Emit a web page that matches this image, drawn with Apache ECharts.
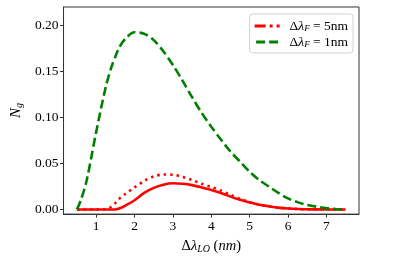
<!DOCTYPE html>
<html><head><meta charset="utf-8">
<script src="https://cdn.jsdelivr.net/npm/echarts@6/dist/echarts.min.js"></script>
<style>html,body{margin:0;padding:0;background:#fff}#c{width:415px;height:259px}</style>
</head><body><div id="c"></div>
<script>
const xs = [0.5, 0.6, 0.75, 1.0, 1.25, 1.4, 1.5, 1.6, 1.75, 2.0, 2.25, 2.5, 2.75, 3.0, 3.25, 3.5, 3.75, 4.0, 4.25, 4.5, 4.75, 5.0, 5.25, 5.5, 5.75, 6.0, 6.25, 6.5, 6.75, 7.0, 7.25, 7.5];
const ngF1 = [0, 0.010, 0.031, 0.084, 0.133, 0.155, 0.166, 0.176, 0.185, 0.1925, 0.191, 0.184, 0.172, 0.157, 0.140, 0.122, 0.105, 0.090, 0.076, 0.063, 0.052, 0.041, 0.032, 0.025, 0.018, 0.012, 0.008, 0.005, 0.003, 0.0015, 0.0005, 0];
const ngF5Solid = [0, 0, 0, 0, 0, 0, 0, 0.001, 0.004, 0.010, 0.018, 0.0235, 0.027, 0.0285, 0.028, 0.0265, 0.024, 0.0213, 0.018, 0.014, 0.0105, 0.0075, 0.0052, 0.0035, 0.002, 0.0011, 0.0005, 0.0002, 0.0001, 0, 0, 0];
const ngF5Dotted = [0, 0, 0, 0, 0.0005, 0.003, 0.007, 0.0115, 0.0165, 0.024, 0.031, 0.036, 0.038, 0.0378, 0.0355, 0.032, 0.028, 0.0245, 0.0205, 0.016, 0.0115, 0.008, 0.0052, 0.0035, 0.002, 0.0011, 0.0005, 0.0002, 0.0001, 0, 0, 0];
const xTicks = [1, 2, 3, 4, 5, 6, 7];
const yTicks = [0, 0.05, 0.10, 0.15, 0.20];
const legendLabels = ['5nm', '1nm'];

const pairs = arr => xs.map((x, i) => [x, arr[i]]);
const serifFont = '"Liberation Serif", "DejaVu Serif", serif';
const chart = echarts.init(document.getElementById('c'), null, {renderer: 'canvas'});
const rich = {
  n: {fontFamily: serifFont, fontSize: 13.5, color: '#000', lineHeight: 14},
  i: {fontFamily: serifFont, fontSize: 13.5, fontStyle: 'italic', color: '#000', lineHeight: 14},
  s: {fontFamily: serifFont, fontSize: 9, fontStyle: 'italic', color: '#000', verticalAlign: 'bottom', lineHeight: 8, padding: [6, 0, 0, 0]}
};
chart.setOption({
  animation: false,
  grid: {left: 60, right: 56, top: 7, bottom: 44, show: true, borderColor: '#333', borderWidth: 1, backgroundColor: 'transparent'},
  legend: {
    show: true,
    right: 62, top: 14,
    orient: 'vertical',
    itemGap: 1,
    padding: [4, 5, 4, 5],
    borderColor: '#d0d0d0', borderWidth: 1, borderRadius: 3, backgroundColor: '#fff',
    data: [
      {name: legendLabels[0], icon: 'path://M0,0H11V3H0Z M15,0H18V3H15Z M22,0H25V3H22Z'},
      {name: legendLabels[1], icon: 'path://M0,0H9V3H0Z M13,0H22V3H13Z'}
    ],
    itemWidth: 25, itemHeight: 3,
    formatter: name => '{n|Δ}{i|λ}{s|F}{n| = ' + name + '}',
    textStyle: {rich: rich, padding: [0, 0, 0, 5]}
  },
  xAxis: {
    type: 'value', min: 0.15, max: 7.85,
    name: '{n|Δ}{i|λ}{s|LO}{n| (}{i|nm}{n|)}',
    nameLocation: 'middle', nameGap: 19,
    nameTextStyle: {rich: {
      n: {fontFamily: serifFont, fontSize: 14.5, color: '#000'},
      i: {fontFamily: serifFont, fontSize: 14.5, fontStyle: 'italic', color: '#000'},
      s: {fontFamily: serifFont, fontSize: 10, fontStyle: 'italic', color: '#000', verticalAlign: 'bottom', lineHeight: 9, padding: [6, 0, 0, 0]}
    }},
    axisLine: {show: true, onZero: false, lineStyle: {color: '#333', width: 1}},
    axisTick: {show: true, length: 3.5, lineStyle: {color: '#333'}, customValues: xTicks},
    axisLabel: {customValues: xTicks, margin: 5, fontFamily: serifFont, fontSize: 13.5, color: '#000'},
    splitLine: {show: false}
  },
  yAxis: {
    type: 'value', min: -0.005, max: 0.22,
    name: '{i|N}{s|g}',
    nameLocation: 'middle', nameGap: 38, nameRotate: 90,
    nameTextStyle: {rich: {
      i: {fontFamily: serifFont, fontSize: 15, fontStyle: 'italic', color: '#000'},
      s: {fontFamily: serifFont, fontSize: 10, fontStyle: 'italic', color: '#000', verticalAlign: 'bottom', lineHeight: 9, padding: [6, 0, 0, 0]}
    }},
    axisLine: {show: true, onZero: false, lineStyle: {color: '#333', width: 1}},
    axisTick: {show: true, length: 3.5, lineStyle: {color: '#333'}, customValues: yTicks},
    axisLabel: {customValues: yTicks, margin: 5, fontFamily: serifFont, fontSize: 13.5, color: '#000', formatter: v => v.toFixed(2)},
    splitLine: {show: false}
  },
  series: [
    {name: legendLabels[0], type: 'line', data: pairs(ngF5Solid), smooth: 0.3, showSymbol: false, color: '#ff0000', lineStyle: {width: 2.6, color: '#ff0000'}, z: 2},
    {name: legendLabels[0], type: 'line', data: pairs(ngF5Dotted), smooth: 0.3, showSymbol: false, color: '#ff0000', lineStyle: {width: 2.6, color: '#ff0000', type: [2.5, 4]}, z: 3},
    {name: legendLabels[1], type: 'line', data: pairs(ngF1), smooth: 0.3, showSymbol: false, color: '#008000', lineStyle: {width: 2.6, color: '#008000', type: [9, 4]}, z: 4}
  ]
});
</script></body></html>
